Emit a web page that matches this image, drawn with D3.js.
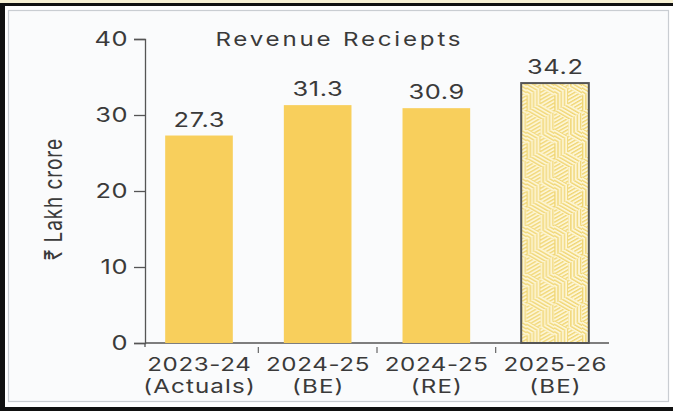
<!DOCTYPE html>
<html>
<head>
<meta charset="utf-8">
<script src="https://cdn.jsdelivr.net/npm/d3@7"></script>
<style>
  html, body { margin: 0; padding: 0; background: #ffffff; }
  svg { display: block; }
  text { font-family: "Inter", "DejaVu Sans", sans-serif; fill: #3a3a3a; font-weight: 400; }
</style>
</head>
<body>
<script>
// Revenue receipts, in ₹ lakh crore
const periods = ["2023-24", "2024-25", "2024-25", "2025-26"];
const periodNotes = ["(Actuals)", "(BE)", "(RE)", "(BE)"];
const receipts = [27.3, 31.3, 30.9, 34.2];
const projected = [false, false, false, true];
const yTicks = [0, 10, 20, 30, 40];

const W = 673, H = 411;
const WIDE = 1.27; // horizontal stretch applied to all lettering

const svg = d3.select("body").append("svg").attr("width", W).attr("height", H);

// writes a horizontally widened text anchored at (x, y)
function wideText(parent, x, y, str, size, anchor = "middle", spacing = 0) {
  return parent.append("text")
    .attr("transform", `translate(${x},${y}) scale(${WIDE},1)`)
    .attr("text-anchor", anchor)
    .attr("font-size", size)
    .attr("letter-spacing", spacing)
    .attr("dx", anchor === "middle" ? spacing / 2 : anchor === "end" ? spacing : 0)
    .text(str);
}

// frame
svg.append("rect").attr("x", 0).attr("y", 0).attr("width", W).attr("height", 3).attr("fill", "#f7f1d4");
svg.append("rect").attr("x", 0).attr("y", 3).attr("width", W).attr("height", H - 3).attr("fill", "#ffffff");
svg.append("rect").attr("x", 0).attr("y", 3).attr("width", W).attr("height", 3).attr("fill", "#111");
svg.append("rect").attr("x", 0).attr("y", 3).attr("width", 5).attr("height", H - 3).attr("fill", "#111");
svg.append("rect").attr("x", 0).attr("y", 407).attr("width", W).attr("height", 4).attr("fill", "#111");
svg.append("rect").attr("x", 8.5).attr("y", 10.5).attr("width", 660).attr("height", 391)
  .attr("fill", "#fafbfc").attr("stroke", "#c9cdd2").attr("stroke-width", 1.2);

// striped tumbling-block fill for the budget estimate bar
const defs = svg.append("defs");
function stripes(id, angle) {
  const p = defs.append("pattern").attr("id", id).attr("patternUnits", "userSpaceOnUse")
    .attr("width", 3.2).attr("height", 3.2).attr("patternTransform", `rotate(${angle})`);
  p.append("rect").attr("width", 3.2).attr("height", 3.2).attr("fill", "#fdf6d6");
  p.append("rect").attr("x", 0).attr("width", 1.3).attr("height", 3.2).attr("fill", "#f0d46e");
}
stripes("stripeV", 0);
stripes("stripeL", 60);
stripes("stripeR", -60);

const s = 16, hw = s * Math.cos(Math.PI / 6), TW = 2 * hw, TH = 3 * s;
const blocks = defs.append("pattern").attr("id", "blocks").attr("patternUnits", "userSpaceOnUse")
  .attr("width", TW).attr("height", TH);
blocks.append("rect").attr("width", TW).attr("height", TH).attr("fill", "#fdf6d6");
const centers = [[0, 0], [TW, 0], [0, TH], [TW, TH], [hw, 1.5 * s]];
centers.forEach(([cx, cy]) => {
  const top = [cx, cy - s], ur = [cx + hw, cy - s / 2], lr = [cx + hw, cy + s / 2],
        bot = [cx, cy + s], ll = [cx - hw, cy + s / 2], ul = [cx - hw, cy - s / 2], c = [cx, cy];
  const faces = [
    [[top, ur, c, ul], "url(#stripeR)"],
    [[ul, c, bot, ll], "url(#stripeL)"],
    [[c, ur, lr, bot], "url(#stripeV)"]
  ];
  faces.forEach(([pts, fill]) => {
    blocks.append("polygon").attr("points", pts.map(p => p.join(",")).join(" ")).attr("fill", fill);
  });
});

// scales
const x = d3.scaleBand().domain(d3.range(receipts.length)).range([145, 609])
  .paddingInner(0.43).paddingOuter(0.17);
const y = d3.scaleLinear().domain([0, 40]).range([343, 39]);

// y axis
const yAxis = svg.append("g").attr("transform", "translate(145,0)")
  .call(d3.axisLeft(y).tickValues(yTicks).tickSize(11).tickPadding(6));
yAxis.attr("font-family", null).attr("font-size", null);
yAxis.select(".domain").attr("stroke", "#555").attr("stroke-width", 1.3);
yAxis.selectAll(".tick line").attr("stroke", "#555").attr("stroke-width", 1.3);
yAxis.selectAll(".tick text")
  .attr("x", null)
  .attr("transform", `translate(-17,0) scale(${WIDE},1)`)
  .attr("font-size", 20)
  .attr("letter-spacing", 0.4)
  .attr("fill", "#3a3a3a");
svg.append("line").attr("x1", 145).attr("x2", 145).attr("y1", y(0)).attr("y2", y(0) + 4)
  .attr("stroke", "#555").attr("stroke-width", 1.3);

svg.append("text")
  .attr("transform", `translate(62,199) scale(${WIDE},1) rotate(-90)`)
  .attr("text-anchor", "middle").attr("font-size", 19).attr("letter-spacing", 0.9)
  .text("₹ Lakh crore");

// x axis baseline and separators
svg.append("line").attr("x1", 145).attr("x2", 609).attr("y1", y(0)).attr("y2", y(0))
  .attr("stroke", "#555").attr("stroke-width", 1.3);
d3.range(1, receipts.length).forEach(i => {
  const sx = (x(i - 1) + x.bandwidth() + x(i)) / 2;
  svg.append("line").attr("x1", sx).attr("x2", sx).attr("y1", y(0) + 4).attr("y2", y(0) + 10)
    .attr("stroke", "#666").attr("stroke-width", 1.2);
});

// bars, value labels and period labels
const bars = svg.append("g");
receipts.forEach((v, i) => {
  const cx = x(i) + x.bandwidth() / 2;
  const r = bars.append("rect").attr("x", x(i)).attr("y", y(v))
    .attr("width", x.bandwidth()).attr("height", y(0) - y(v));
  if (projected[i]) {
    r.attr("fill", "url(#blocks)").attr("stroke", "#555").attr("stroke-width", 2);
  } else {
    r.attr("fill", "#f8cf5c");
  }
  wideText(bars, cx, y(v) - 9, v.toFixed(1), 20, "middle", 0.5);
  wideText(svg, cx, 371, periods[i], 19, "middle", 0.5);
  wideText(svg, cx, 393, periodNotes[i], 19, "middle", 0.9);
});

// title
wideText(svg, 338, 46, "Revenue Reciepts", 19, "middle", 2.2);
</script>
</body>
</html>
